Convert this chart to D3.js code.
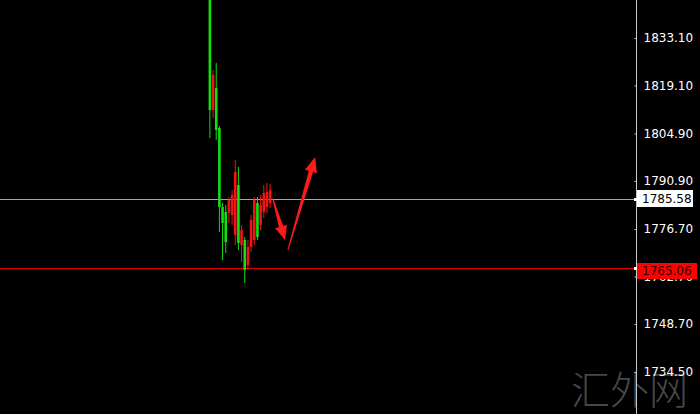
<!DOCTYPE html>
<html>
<head>
<meta charset="utf-8">
<script src="https://cdn.jsdelivr.net/npm/d3@7/dist/d3.min.js"></script>
<style>
  html, body { margin: 0; padding: 0; background: #000; }
  svg { display: block; }
</style>
</head>
<body>
<svg id="chart" width="700" height="414"></svg>
<script>
// OHLC bars (oldest first)
const opens  = [1851.70, 1811.84, 1818.34, 1806.53, 1783.20, 1781.73, 1781.43, 1780.84, 1774.94, 1789.70,
                1771.98, 1773.46, 1766.08, 1771.39, 1773.46, 1784.38, 1777.89, 1781.73, 1783.20, 1784.38];
const highs  = [1853.18, 1823.65, 1825.72, 1807.12, 1784.38, 1783.79, 1786.16, 1788.22, 1797.08, 1795.01,
                1777.89, 1774.34, 1773.46, 1780.84, 1786.16, 1786.16, 1786.75, 1789.70, 1790.29, 1790.00];
const lows   = [1803.58, 1809.48, 1802.98, 1775.82, 1767.55, 1769.62, 1778.48, 1777.89, 1771.98, 1770.51,
                1766.96, 1760.76, 1764.60, 1769.92, 1771.98, 1773.46, 1776.41, 1779.96, 1781.43, 1782.91];
const closes = [1811.84, 1822.18, 1805.94, 1783.20, 1778.48, 1772.87, 1785.27, 1786.75, 1793.54, 1772.57,
                1776.41, 1764.60, 1771.39, 1779.36, 1785.27, 1774.34, 1783.79, 1787.34, 1787.63, 1788.22];

// Price scale labels
const tickValues = [1833.10, 1819.10, 1804.90, 1790.90, 1776.70, 1762.70, 1748.70, 1734.50];
const tickLabels = ["1833.10", "1819.10", "1804.90", "1790.90", "1776.70", "1762.70", "1748.70", "1734.50"];

// Horizontal price levels
const bidPrice = 1785.58;
const levelPrice = 1765.06;

// Hand-drawn arrows: [barIndex, price] from tail to tip
const arrowDown = [[19.8, 1785.86], [23.7, 1773.46]];
const arrowUp   = [[24.6, 1770.51], [33.2, 1797.97]];

const watermark = "汇外网";

const W = 700, H = 414, axisX = 636;
const svg = d3.select("#chart");
svg.append("rect").attr("width", W).attr("height", H).attr("fill", "#000");

const x = d3.scaleLinear().domain([-66.2, 134.4]).range([0, axisX]);
const y = d3.scaleLinear().domain([1734.50, 1833.10]).range([372, 38]);

const bars = opens.map((o, i) => ({ i, o, h: highs[i], l: lows[i], c: closes[i] }));

// price level lines
svg.append("line")
  .attr("x1", 0).attr("x2", axisX)
  .attr("y1", Math.round(y(bidPrice)) + 0.5).attr("y2", Math.round(y(bidPrice)) + 0.5)
  .attr("stroke", "#a4a4b8").attr("stroke-width", 1);
svg.append("line")
  .attr("x1", 0).attr("x2", axisX)
  .attr("y1", Math.round(y(levelPrice)) + 0.5).attr("y2", Math.round(y(levelPrice)) + 0.5)
  .attr("stroke", "#e00000").attr("stroke-width", 1);

// candles
const up = "#f01414", down = "#10e010";
const g = svg.append("g");
const candle = g.selectAll("g.candle").data(bars).join("g").attr("class", "candle");
candle.append("line")
  .attr("x1", d => x(d.i)).attr("x2", d => x(d.i))
  .attr("y1", d => y(d.h)).attr("y2", d => y(d.l))
  .attr("stroke", d => d.c >= d.o ? up : down).attr("stroke-width", 1);
candle.append("rect")
  .attr("x", d => x(d.i) - 1.3).attr("width", 2.6)
  .attr("y", d => y(Math.max(d.o, d.c)))
  .attr("height", d => Math.max(1, Math.abs(y(d.o) - y(d.c))))
  .attr("fill", d => d.c >= d.o ? up : down);

// arrows drawn as tapered shafts with a triangular head
function arrowPath(pts) {
  const [x0, y0] = [x(pts[0][0]), y(pts[0][1])];
  const [x1, y1] = [x(pts[1][0]), y(pts[1][1])];
  const dx = x1 - x0, dy = y1 - y0, len = Math.hypot(dx, dy);
  const ux = dx / len, uy = dy / len, nx = -uy, ny = ux;
  const headLen = Math.min(15, len * 0.32), headW = 6.2, shaftW = 2.2, tailW = 0.5;
  const bx = x1 - ux * headLen, by = y1 - uy * headLen;
  const p = [
    [x0 + nx * tailW, y0 + ny * tailW],
    [bx + nx * shaftW, by + ny * shaftW],
    [bx + nx * headW, by + ny * headW],
    [x1, y1],
    [bx - nx * headW, by - ny * headW],
    [bx - nx * shaftW, by - ny * shaftW],
    [x0 - nx * tailW, y0 - ny * tailW]
  ];
  return "M" + p.map(q => q.join(",")).join("L") + "Z";
}
svg.append("path").attr("d", arrowPath(arrowDown)).attr("fill", "#ff1a1a");
svg.append("path").attr("d", arrowPath(arrowUp)).attr("fill", "#ff1a1a");

// watermark
svg.append("text")
  .attr("x", 571).attr("y", 404)
  .attr("font-family", "'Noto Sans CJK SC', sans-serif")
  .attr("font-size", 39).attr("font-weight", 300)
  .attr("fill", "#7a7a7a").attr("fill-opacity", 0.6)
  .text(watermark);

// price axis
svg.append("line")
  .attr("x1", axisX + 0.5).attr("x2", axisX + 0.5).attr("y1", 0).attr("y2", H)
  .attr("stroke", "#c8c8c8").attr("stroke-width", 1);
const axis = d3.axisRight(y)
  .tickValues(tickValues)
  .tickFormat((d, i) => tickLabels[i])
  .tickSizeInner(-2).tickSizeOuter(0).tickPadding(7);
const ax = svg.append("g").attr("transform", `translate(${axisX + 0.5},0)`).call(axis);
ax.select(".domain").remove();
ax.selectAll(".tick line").attr("stroke", "#c8c8c8");
ax.selectAll(".tick text")
  .attr("fill", "#ffffff")
  .attr("font-family", "'DejaVu Sans', sans-serif")
  .attr("font-size", 12);

// price tags on the axis
function tag(price, bg, fg, top, h, w, textY) {
  const yy = Math.round(y(price));
  svg.append("rect").attr("x", axisX - 2).attr("y", yy - 1).attr("width", 3).attr("height", 3).attr("fill", "#ffffff");
  svg.append("rect").attr("x", axisX + 1).attr("y", yy + top).attr("width", w).attr("height", h).attr("fill", bg);
  svg.append("text").attr("x", axisX + 6).attr("y", yy + textY).attr("dy", "0.36em")
    .attr("font-family", "'DejaVu Sans', sans-serif").attr("font-size", 12)
    .attr("fill", fg).text(price.toFixed(2));
}
tag(bidPrice, "#ffffff", "#000000", -9, 17, 56, 0);
tag(levelPrice, "#ff0000", "#2a0000", -5, 16, 60, 3);
</script>
</body>
</html>
